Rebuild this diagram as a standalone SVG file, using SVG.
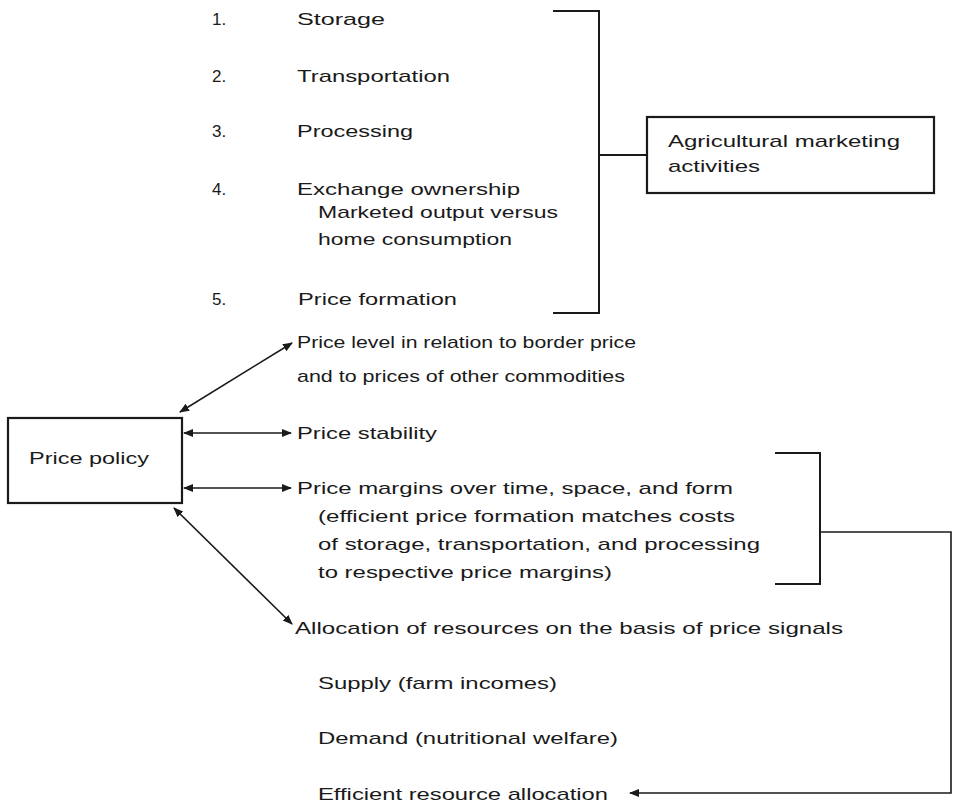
<svg xmlns="http://www.w3.org/2000/svg" width="953" height="805" viewBox="0 0 953 805">
<style>
text{font-family:"Liberation Sans",Arial,sans-serif;font-size:17px;fill:#1a1a1a}
.box{fill:#fff;stroke:#1a1a1a;stroke-width:2.2}
.ln{fill:none;stroke:#1a1a1a;stroke-width:2}
.ar{fill:none;stroke:#1a1a1a;stroke-width:1.6;marker-end:url(#ah);marker-start:url(#ah)}
.ar1{fill:none;stroke:#1a1a1a;stroke-width:1.6;marker-end:url(#ah)}
</style>
<defs>
<marker id="ah" viewBox="0 0 10 10" refX="9" refY="5" markerWidth="10" markerHeight="10" markerUnits="userSpaceOnUse" orient="auto-start-reverse">
<path d="M0,1 L10,5 L0,9 Z" fill="#1a1a1a"/>
</marker>
</defs>
<g id="marketing-list">
<text x="212" y="25">1.</text>
<text x="297" y="25" textLength="88" lengthAdjust="spacingAndGlyphs">Storage</text>
<text x="212" y="82">2.</text>
<text x="297" y="82" textLength="153" lengthAdjust="spacingAndGlyphs">Transportation</text>
<text x="212" y="137">3.</text>
<text x="297" y="137" textLength="116" lengthAdjust="spacingAndGlyphs">Processing</text>
<text x="212" y="195">4.</text>
<text x="297" y="195" textLength="223" lengthAdjust="spacingAndGlyphs">Exchange ownership</text>
<text x="318" y="218" textLength="240" lengthAdjust="spacingAndGlyphs">Marketed output versus</text>
<text x="318" y="245" textLength="194" lengthAdjust="spacingAndGlyphs">home consumption</text>
<text x="212" y="305">5.</text>
<text x="298" y="305" textLength="159" lengthAdjust="spacingAndGlyphs">Price formation</text>
</g>
<g id="agri-box">
<rect class="box" x="647" y="117" width="287" height="76"/>
<text x="668" y="147" textLength="232" lengthAdjust="spacingAndGlyphs">Agricultural marketing</text>
<text x="668" y="172" textLength="92" lengthAdjust="spacingAndGlyphs">activities</text>
</g>
<g id="price-policy">
<rect class="box" x="8" y="418" width="174" height="85"/>
<text x="29" y="464" textLength="120" lengthAdjust="spacingAndGlyphs">Price policy</text>
</g>
<g id="price-level">
<text x="297" y="348" textLength="339" lengthAdjust="spacingAndGlyphs">Price level in relation to border price</text>
<text x="297" y="382" textLength="328" lengthAdjust="spacingAndGlyphs">and to prices of other commodities</text>
</g>
<g id="price-stability">
<text x="297" y="439" textLength="140" lengthAdjust="spacingAndGlyphs">Price stability</text>
</g>
<g id="price-margins">
<text x="297" y="494" textLength="436" lengthAdjust="spacingAndGlyphs">Price margins over time, space, and form</text>
<text x="318" y="522" textLength="417" lengthAdjust="spacingAndGlyphs">(efficient price formation matches costs</text>
<text x="318" y="550" textLength="442" lengthAdjust="spacingAndGlyphs">of storage, transportation, and processing</text>
<text x="318" y="578" textLength="294" lengthAdjust="spacingAndGlyphs">to respective price margins)</text>
</g>
<g id="allocation">
<text x="295" y="634" textLength="548" lengthAdjust="spacingAndGlyphs">Allocation of resources on the basis of price signals</text>
<text x="318" y="689" textLength="239" lengthAdjust="spacingAndGlyphs">Supply (farm incomes)</text>
<text x="318" y="744" textLength="300" lengthAdjust="spacingAndGlyphs">Demand (nutritional welfare)</text>
<text x="318" y="800" textLength="290" lengthAdjust="spacingAndGlyphs">Efficient resource allocation</text>
</g>
<g id="connectors">
<path class="ln" d="M553,11 H599 V313 H553"/>
<path class="ln" d="M599,155 H647"/>
<path class="ln" d="M775,453 H820 V584 H775"/>
<path class="ar1" d="M820,532 H951 V793 H630"/>
<path class="ar" d="M180,412 L292,343"/>
<path class="ar" d="M184,433 H291"/>
<path class="ar" d="M184,488 H291"/>
<path class="ar" d="M174,508 L292,624"/>
</g>
</svg>
